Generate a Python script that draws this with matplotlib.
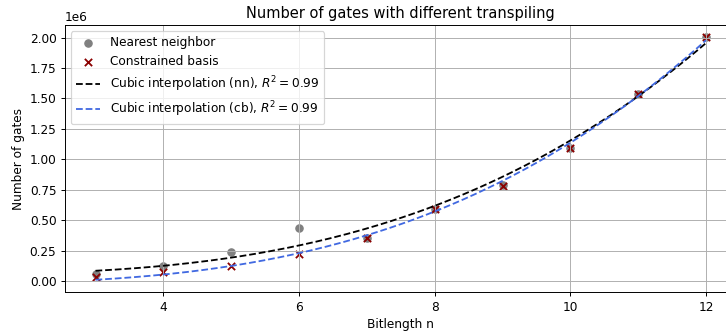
import numpy as np
import matplotlib
matplotlib.use('Agg')
import matplotlib.pyplot as plt

# data
bitlength = [3, 4, 5, 6, 7, 8, 9, 10, 11, 12]
gates_nn = [0.057e6, 0.125e6, 0.238e6, 0.434e6, 0.357e6, 0.592e6, 0.786e6, 1.095e6, 1.540e6, 2.004e6]
gates_cb = [0.035e6, 0.076e6, 0.123e6, 0.224e6, 0.355e6, 0.590e6, 0.784e6, 1.093e6, 1.538e6, 2.003e6]

#fit a*n^3 + b to each series
def cubic_fit(n, g, n_out):
    n = np.asarray(n, dtype=float)
    A = np.vstack([n**3, np.ones_like(n)]).T
    coef = np.linalg.lstsq(A, np.asarray(g), rcond=None)[0]
    return coef[0]*n_out**3 + coef[1]

n_fine = np.linspace(3, 12, 200)
fit_nn = cubic_fit(bitlength, gates_nn, n_fine)
fit_cb = cubic_fit(bitlength, gates_cb, n_fine)

#render at a lower dpi so fonts and marks come out smaller
dpi = 87.5
fig = plt.figure(figsize=(726/dpi, 331/dpi), dpi=dpi)
ax = fig.add_axes([0.0895, 0.1178, 0.925, 0.8066])
ax.scatter(bitlength, gates_nn, c='gray', marker='o', label='Nearest neighbor')
ax.scatter(bitlength, gates_cb, c='darkred', marker='x', label='Constrained basis')
ax.plot(n_fine, fit_nn, c='black', ls='--', label=r'Cubic interpolation (nn), $R^2 = 0.99$')
ax.plot(n_fine, fit_cb, c='royalblue', ls='--', label=r'Cubic interpolation (cb), $R^2 = 0.99$')
ax.set_xlim(2.55, 12.45)
ax.set_ylim(-0.09e6, 2.103e6)
ax.set_title('Number of gates with different transpiling')
ax.set_xlabel('Bitlength n')
ax.set_ylabel('Number of gates')
ax.grid(True)
ax.legend(loc='upper left')
fig.savefig('out.png', dpi=dpi)
